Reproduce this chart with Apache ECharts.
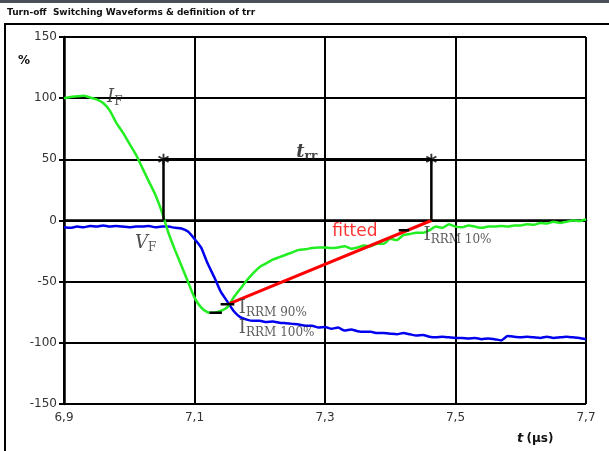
<!DOCTYPE html>
<html>
<head>
<meta charset="utf-8">
<title>Turn-off Switching Waveforms</title>
<script src="https://cdn.jsdelivr.net/npm/echarts@6/dist/echarts.min.js"></script>
<style>
    html, body { margin: 0; padding: 0; background: #fff; }
    #chart { width: 609px; height: 451px; }
</style>
</head>
<body>
<div id="chart"></div>
<script>
// time axis (µs)
var times = [
    6.90, 6.91, 6.92, 6.93, 6.94, 6.95, 6.96, 6.97, 6.98, 6.99,
    7.00, 7.01, 7.02, 7.03, 7.04, 7.05, 7.06, 7.07, 7.08, 7.09,
    7.10, 7.11, 7.12, 7.13, 7.14, 7.15, 7.16, 7.17, 7.18, 7.19,
    7.20, 7.21, 7.22, 7.23, 7.24, 7.25, 7.26, 7.27, 7.28, 7.29,
    7.30, 7.31, 7.32, 7.33, 7.34, 7.35, 7.36, 7.37, 7.38, 7.39,
    7.40, 7.41, 7.42, 7.43, 7.44, 7.45, 7.46, 7.47, 7.48, 7.49,
    7.50, 7.51, 7.52, 7.53, 7.54, 7.55, 7.56, 7.57, 7.58, 7.59,
    7.60, 7.61, 7.62, 7.63, 7.64, 7.65, 7.66, 7.67, 7.68, 7.69,
    7.70
]
// I_F (%)
var currentIF = [
    100, 101, 101.5, 102, 100.5, 99, 96, 90, 80, 72,
    63, 54, 43, 32, 21, 7, -10, -24, -37, -50,
    -63, -71, -75, -75.5, -74, -71, -63, -56, -49, -43,
    -38, -35, -32, -30, -28, -26, -24, -23.5, -22.5, -22,
    -22, -22.5, -22, -21, -23, -22, -20.5, -21, -19, -19,
    -15, -16, -12, -11, -10, -10, -8, -5, -6, -3,
    -5, -5.5, -4, -5, -6, -5, -5, -4.5, -5, -4,
    -4, -3, -3.5, -2, -2.5, -1, -2, -1, 0, -0.5,
    1
]
// V_F (%)
var voltageVF = [
    -5.5, -6, -5, -5.5, -4.5, -5, -4, -5, -4.5, -5,
    -5.5, -5, -5, -4.5, -5.5, -5, -5, -6, -6.5, -9,
    -15, -22, -35, -46, -58, -66, -74, -79, -81, -82,
    -82, -83, -82.5, -83.5, -84, -84.5, -85, -86, -86, -87.5,
    -87, -88.5, -87.5, -90, -89, -90.5, -91, -91, -92, -92,
    -92.5, -93, -92, -93, -94, -93.5, -95, -95.5, -95, -95.5,
    -96, -96, -96.5, -96, -97, -96.5, -97, -98, -94.5, -95,
    -95.5, -95, -95.5, -96, -95, -96, -95.5, -95, -95.5, -96,
    -97
]
// fitted line from I_RRM 90% to the zero crossing
var fittedLine = [[7.1536, -68], [7.463, 0]]
// t_rr markers: start/end time at 50 %
var trrStart = 7.0525
var trrEnd = 7.463
var trrLevel = 50
// short level dashes: I_RRM 100%, 90%, 10%
var levelDashes = [
    [[7.123, -75.5], [7.142, -75.5]],
    [[7.14, -68.5], [7.161, -68.5]],
    [[7.413, -8], [7.429, -8]]
]
// axis ticks
var xTicks = [6.9, 7.1, 7.3, 7.5, 7.7]
var yTicks = [-150, -100, -50, 0, 50, 100, 150]

var chart = echarts.init(document.getElementById('chart'))

var pairs = function (vals) {
    return times.map(function (t, i) {
        return [t, vals[i]]
    })
}

// dashes separated by gaps
var dashData = []
levelDashes.forEach(function (d) {
    dashData.push(d[0], d[1], '-')
})

var starPath = 'path://M-0.8,-5L0.8,-5L0.8,5L-0.8,5Z' +
    'M-3.93,3.19L-4.73,1.81L3.93,-3.19L4.73,-1.81Z' +
    'M4.73,1.81L3.93,3.19L-4.73,-1.81L-3.93,-3.19Z'

var serif = 'DejaVu Serif'
var subStyle = { fontFamily: serif, fontSize: 12, color: '#333', padding: [9, 0, 0, 0] }
var capStyle = { fontFamily: serif, fontSize: 18, color: '#333' }
var itStyle = { fontFamily: serif, fontSize: 18, fontStyle: 'italic', color: '#222' }

var notes = [
    { value: [6.966, 101], text: '{it|I}{sub|F}' },
    { value: [7.009, -19], text: '{it|V}{sub|F}' },
    { value: [7.256, 56], text: '{bt|t}{bsub|rr}' },
    { value: [7.311, -9], text: '{red|fitted}' },
    { value: [7.168, -72], text: '{cap|I}{sub|RRM 90%}' },
    { value: [7.168, -88], text: '{cap|I}{sub|RRM 100%}' },
    { value: [7.451, -12], text: '{cap|I}{sub|RRM 10%}' }
]

var option = {
    backgroundColor: '#fff',
    animation: false,
    grid: {
        left: 64,
        right: 23,
        top: 37,
        bottom: 47
    },
    xAxis: {
        type: 'value',
        min: 6.9,
        max: 7.7,
        interval: 0.2,
        axisLine: { lineStyle: { color: '#000', width: 2.5 } },
        axisTick: { length: 4, lineStyle: { color: '#000', width: 2 } },
        axisLabel: {
            color: '#333',
            fontFamily: 'DejaVu Sans',
            fontSize: 12,
            margin: 8,
            formatter: function (v) {
                var hit = xTicks.filter(function (t) { return Math.abs(t - v) < 1e-6 })
                return hit.length ? hit[0].toFixed(1).replace('.', ',') : ''
            }
        },
        splitLine: { show: true, lineStyle: { color: '#000', width: 2 } }
    },
    yAxis: {
        type: 'value',
        min: -150,
        max: 150,
        interval: 50,
        axisLine: { show: true, lineStyle: { color: '#000', width: 2.5 } },
        axisTick: { show: true, length: 5, lineStyle: { color: '#000', width: 2 } },
        axisLabel: {
            color: '#333',
            fontFamily: 'DejaVu Sans',
            fontSize: 12,
            margin: 7,
            formatter: function (v) {
                return yTicks.indexOf(v) >= 0 ? String(v) : ''
            }
        },
        splitLine: { show: true, lineStyle: { color: '#000', width: 2 } }
    },
    series: [
        {
            name: 'VF',
            type: 'line',
            data: pairs(voltageVF),
            showSymbol: false,
            smooth: 0.2,
            lineStyle: { color: '#0000ee', width: 2.5 },
            z: 3
        },
        {
            name: 'IF',
            type: 'line',
            data: pairs(currentIF),
            showSymbol: false,
            smooth: 0.2,
            lineStyle: { color: '#22ee22', width: 2.5 },
            z: 4
        },
        {
            name: 'fitted',
            type: 'line',
            data: fittedLine,
            showSymbol: false,
            lineStyle: { color: '#ff0000', width: 3 },
            z: 5
        },
        {
            name: 'trr',
            type: 'line',
            data: [[trrStart, 0], [trrStart, trrLevel], [trrEnd, trrLevel], [trrEnd, 0]],
            showSymbol: false,
            lineStyle: { color: '#000', width: 2.5 },
            z: 6
        },
        {
            name: 'trrStars',
            type: 'scatter',
            data: [[trrStart, trrLevel], [trrEnd, trrLevel]],
            symbol: starPath,
            symbolSize: 11,
            itemStyle: { color: '#000' },
            z: 7
        },
        {
            name: 'dashes',
            type: 'line',
            data: dashData,
            connectNulls: false,
            showSymbol: false,
            lineStyle: { color: '#000', width: 2.5 },
            z: 7
        },
        {
            name: 'notes',
            type: 'scatter',
            symbolSize: 0,
            silent: true,
            data: notes.map(function (n) {
                return { value: n.value, text: n.text }
            }),
            label: {
                show: true,
                position: 'right',
                distance: 0,
                formatter: function (p) { return p.data.text },
                rich: {
                    it: itStyle,
                    cap: capStyle,
                    sub: subStyle,
                    bt: { fontFamily: serif, fontSize: 18, fontStyle: 'italic', fontWeight: 'bold', color: '#111' },
                    bsub: { fontFamily: serif, fontSize: 12, fontWeight: 'bold', color: '#111', padding: [9, 0, 0, 0] },
                    red: { fontFamily: 'DejaVu Sans', fontSize: 17, color: '#ff0000' }
                }
            },
            z: 8
        }
    ],
    graphic: [
        // dark strip at top
        { type: 'rect', left: 0, top: 0, shape: { width: 609, height: 3 }, style: { fill: '#4b5159' } },
        {
            type: 'text', left: 7, top: 8,
            style: { text: 'Turn-off  Switching Waveforms & definition of trr', font: 'bold 9px "DejaVu Sans"', fill: '#111' }
        },
        // outer frame
        { type: 'line', shape: { x1: 4, y1: 24, x2: 609, y2: 24 }, style: { stroke: '#000', lineWidth: 2 } },
        { type: 'line', shape: { x1: 5, y1: 24, x2: 5, y2: 451 }, style: { stroke: '#000', lineWidth: 2 } },
        {
            type: 'text', left: 18, top: 55,
            style: { text: '%', font: 'bold 12px "DejaVu Sans"', fill: '#111' }
        },
        {
            type: 'text', left: 517, top: 432,
            style: {
                text: '{t|t} {u|(µs)}',
                rich: {
                    t: { font: 'italic bold 13px "DejaVu Sans"', fill: '#111' },
                    u: { font: 'bold 12px "DejaVu Sans"', fill: '#111' }
                }
            }
        }
    ]
}
chart.setOption(option)
</script>
</body>
</html>
